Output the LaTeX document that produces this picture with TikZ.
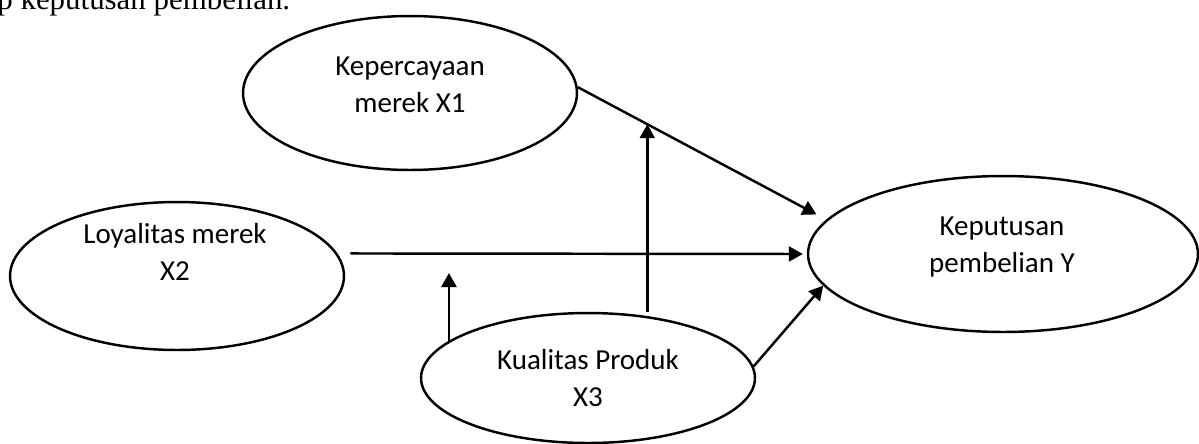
\documentclass[tikz,border=0pt]{standalone}
\usepackage{fontspec}
\setmainfont{Carlito}
\newfontfamily\timesfont{Liberation Serif}
\usetikzlibrary{shapes.geometric,arrows.meta}

\begin{document}
\begin{tikzpicture}[x=0.02cm,y=-0.02cm,
        var/.style={draw,ellipse,line width=1.4pt,inner sep=0pt},
        txt/.style={align=center,anchor=base,inner sep=0pt,font=\fontsize{16.5}{21}\selectfont},
        arr/.style={line width=1.4pt,-{Triangle[length=0.28cm,width=0.3cm]}}]
            \useasboundingbox (0,0) rectangle (1199,443);
            \clip (0,0) rectangle (1199,443);

            %%% TEXT ABOVE %%%
            \node[anchor=base west,inner sep=0pt,font=\timesfont\fontsize{17.6}{21}\selectfont] (caption) at (-3,9.5) {p keputusan pembelian.};

            %%% VARIABLES %%%
            \node[var,minimum width=6.68cm,minimum height=3.08cm] (x1) at (410,93) {};
            \node[var,minimum width=6.68cm,minimum height=2.96cm] (x2) at (177,276) {};
            \node[var,minimum width=6.68cm,minimum height=2.6cm] (x3) at (588,378) {};
            \node[var,minimum width=7.8cm,minimum height=3.12cm] (y) at (1003,254) {};

            %%% LABELS %%% (base = last line)
            \node[txt] (x1txt) at (410,112) {Kepercayaan\\merek X1};
            \node[txt] (x2txt) at (175,280) {Loyalitas merek\\X2};
            \node[txt] (x3txt) at (588,406) {Kualitas Produk\\X3};
            \node[txt] (ytxt) at (1002,272) {Keputusan\\pembelian Y};

            %%% COORDINATES %%%
            \coordinate (m2) at (452,273);

            %%% ARROWS %%%
            \draw[arr,shorten >=2.2mm] (x1.2) -- coordinate[pos=0.28] (m1) (y.169);
            \draw[arr,shorten <=2.6mm,shorten >=0.8mm] (x2.8) -- (y.west);
            \draw[arr] (m1 |- x3.north) -- (m1); % X3 on X1
            \draw[arr] (x3.165) -- (x3.165 |- m2); % X3 on X2
            \draw[arr] (x3.4) -- (y.190);
        \end{tikzpicture}
\end{document}
